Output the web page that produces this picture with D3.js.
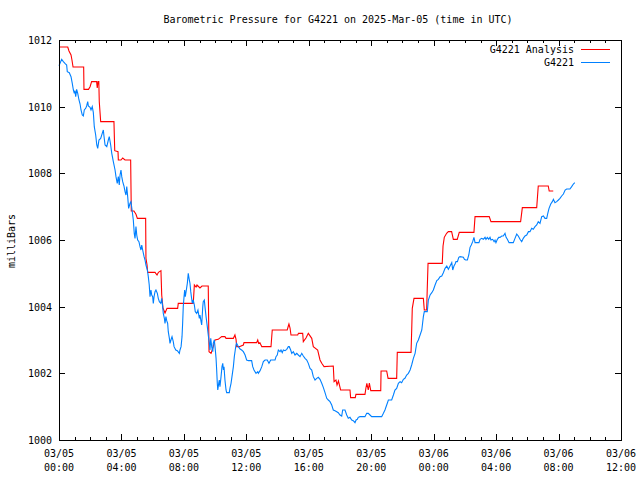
<!DOCTYPE html>
<html><head><meta charset="utf-8">
<script src="https://cdn.jsdelivr.net/npm/d3@7"></script>
<style>
html,body{margin:0;padding:0;background:#fff;}
svg text{font-family:"DejaVu Sans Mono","Liberation Mono",monospace;font-size:10px;fill:#000;}
</style></head>
<body><svg id="c" width="640" height="480"></svg>
<script>
const title = "Barometric Pressure for G4221 on 2025-Mar-05 (time in UTC)";
const yLabel = "milliBars";
const seriesNames = ["G4221 Analysis", "G4221"];
const seriesColors = ["#ff0000", "#0080ff"];
const startTime = "2025-03-05T00:00:00Z";
const endTime = "2025-03-06T12:00:00Z";
const yTicks = [1000, 1002, 1004, 1006, 1008, 1010, 1012];

// hours since 03/05 00:00 UTC
const redHours = [0.00,0.56,0.64,0.77,0.83,0.90,1.58,1.60,1.89,1.99,2.09,2.41,2.45,2.50,2.55,2.58,2.67,3.52,3.57,3.78,3.80,3.97,4.08,4.23,4.59,4.63,4.80,4.93,5.02,5.55,5.57,5.64,5.68,6.15,6.28,6.37,6.53,6.58,6.66,6.79,6.92,7.60,7.64,8.60,8.67,8.78,8.84,9.03,9.16,9.56,9.61,9.74,9.88,9.99,10.20,10.42,10.63,10.70,11.17,11.27,11.34,11.38,11.55,11.81,11.85,12.66,12.73,12.79,12.87,12.99,13.58,13.66,14.62,14.69,14.73,14.80,14.86,15.29,15.34,15.61,15.65,15.82,15.97,16.19,16.29,16.57,16.72,16.83,16.98,17.57,17.62,17.74,17.81,17.90,18.04,18.64,18.68,18.98,19.02,19.60,19.66,19.72,19.81,19.88,19.97,20.61,20.63,20.99,21.08,21.63,21.67,22.55,22.59,22.63,22.74,23.34,23.40,23.55,23.59,23.64,24.55,24.60,24.68,24.83,24.94,25.15,25.26,25.51,25.64,26.58,26.65,27.56,27.67,29.57,29.68,30.60,30.70,31.34,31.40,31.66];
const redValues = [1011.79,1011.79,1011.67,1011.55,1011.40,1011.19,1011.19,1010.52,1010.52,1010.60,1010.75,1010.75,1010.56,1010.75,1010.75,1010.15,1009.55,1009.55,1008.68,1008.65,1008.40,1008.40,1008.46,1008.40,1008.40,1006.87,1006.87,1006.77,1006.65,1006.65,1005.45,1005.25,1005.03,1005.03,1004.95,1005.03,1005.08,1004.35,1003.96,1003.81,1003.95,1003.95,1004.10,1004.10,1004.65,1004.59,1004.65,1004.56,1004.62,1004.62,1002.65,1002.60,1002.80,1003.00,1003.02,1003.10,1003.10,1003.05,1003.05,1003.15,1003.02,1002.80,1002.80,1002.85,1002.92,1002.92,1003.00,1002.90,1002.92,1002.80,1002.80,1003.30,1003.30,1003.42,1003.48,1003.36,1003.15,1003.15,1003.20,1003.20,1002.95,1003.06,1003.20,1003.05,1002.80,1002.70,1002.40,1002.30,1002.20,1002.22,1001.75,1001.80,1001.65,1001.77,1001.50,1001.50,1001.27,1001.27,1001.37,1001.37,1001.56,1001.70,1001.50,1001.71,1001.48,1001.48,1002.07,1002.07,1001.85,1001.85,1002.63,1002.63,1003.25,1003.95,1004.25,1004.25,1003.90,1003.90,1004.55,1005.30,1005.30,1005.82,1006.08,1006.20,1006.25,1006.25,1006.02,1006.02,1006.23,1006.23,1006.70,1006.70,1006.55,1006.55,1006.97,1006.97,1007.62,1007.62,1007.47,1007.47];

const blueHours = [0.00,0.17,0.28,0.38,0.49,0.53,0.66,0.77,0.85,0.92,0.98,1.02,1.07,1.13,1.20,1.28,1.35,1.41,1.49,1.56,1.62,1.71,1.77,1.84,1.88,1.99,2.05,2.13,2.20,2.26,2.35,2.42,2.48,2.56,2.67,2.77,2.84,2.88,2.95,3.06,3.16,3.22,3.31,3.38,3.48,3.59,3.65,3.73,3.80,3.86,3.91,3.97,4.02,4.08,4.16,4.23,4.29,4.34,4.40,4.46,4.55,4.61,4.68,4.76,4.82,4.87,4.93,4.98,5.04,5.12,5.19,5.25,5.30,5.36,5.45,5.51,5.57,5.66,5.72,5.78,5.83,5.89,5.94,6.00,6.04,6.09,6.15,6.21,6.30,6.36,6.43,6.52,6.58,6.64,6.68,6.75,6.79,6.85,6.90,6.96,7.00,7.07,7.11,7.17,7.24,7.32,7.37,7.48,7.58,7.71,7.75,7.82,7.88,7.92,7.96,8.01,8.05,8.09,8.14,8.22,8.28,8.33,8.39,8.44,8.48,8.54,8.60,8.67,8.73,8.82,8.90,8.99,9.03,9.10,9.14,9.21,9.24,9.31,9.35,9.42,9.50,9.56,9.63,9.67,9.72,9.78,9.85,9.88,9.95,10.01,10.06,10.10,10.14,10.17,10.23,10.27,10.31,10.38,10.44,10.49,10.53,10.57,10.63,10.70,10.74,10.91,10.95,11.02,11.08,11.17,11.23,11.29,11.34,11.38,11.49,11.60,11.70,11.81,11.92,12.02,12.13,12.34,12.41,12.49,12.62,12.73,12.77,12.88,12.99,13.09,13.20,13.34,13.45,13.56,13.84,13.90,13.98,14.05,14.16,14.22,14.30,14.37,14.48,14.59,14.69,14.75,14.84,14.91,15.01,15.12,15.23,15.33,15.44,15.55,15.65,15.76,15.87,15.97,16.08,16.19,16.29,16.40,16.51,16.61,16.72,16.83,16.93,17.04,17.15,17.25,17.36,17.47,17.57,17.68,17.79,17.89,18.00,18.11,18.17,18.32,18.43,18.53,18.64,18.75,18.85,18.96,19.03,19.11,19.17,19.28,19.60,19.71,19.81,19.92,20.03,20.67,20.78,20.88,20.99,21.10,21.31,21.42,21.52,21.63,21.74,21.85,21.95,22.06,22.16,22.27,22.38,22.49,22.59,22.70,22.81,22.91,23.02,23.13,23.24,23.34,23.40,23.59,23.66,23.77,23.88,23.98,24.09,24.20,24.30,24.41,24.52,24.62,24.73,24.84,24.94,25.05,25.16,25.22,25.30,25.37,25.43,25.52,25.61,25.69,25.90,25.97,26.05,26.16,26.25,26.33,26.41,26.50,26.58,26.65,26.90,26.97,27.08,27.18,27.29,27.35,27.44,27.53,27.61,27.67,27.78,27.87,27.93,27.99,28.08,28.17,28.25,28.36,28.46,28.57,28.64,28.72,28.83,29.10,29.21,29.32,29.42,29.53,29.64,29.74,29.85,29.96,30.07,30.17,30.28,30.38,30.49,30.60,30.70,30.81,30.92,31.03,31.13,31.24,31.31,31.39,31.50,31.60,31.67,31.77,31.88,31.99,32.09,32.20,32.31,32.42,32.52,32.73,32.84,32.95,33.04];
const blueValues = [1011.23,1011.42,1011.35,1011.30,1011.25,1011.05,1011.02,1010.90,1010.70,1010.50,1010.40,1010.48,1010.30,1010.52,1010.40,1010.20,1010.08,1009.90,1009.75,1009.72,1009.90,1009.95,1010.02,1010.15,1010.02,1009.98,1009.90,1010.00,1009.82,1009.40,1009.15,1008.85,1008.75,1009.00,1009.05,1009.20,1009.30,1009.12,1008.85,1008.80,1009.00,1009.10,1008.85,1008.60,1008.35,1008.10,1007.90,1007.70,1007.90,1007.65,1007.95,1008.10,1007.90,1007.75,1007.62,1007.45,1007.35,1007.60,1007.30,1006.95,1007.10,1007.15,1006.90,1006.60,1006.20,1006.05,1006.40,1006.15,1006.00,1005.95,1005.80,1005.70,1005.85,1005.70,1005.50,1005.40,1005.25,1005.10,1004.90,1004.65,1004.30,1004.50,1004.35,1004.30,1004.10,1004.30,1004.45,1004.50,1004.40,1004.25,1004.15,1004.10,1004.25,1004.00,1003.80,1003.65,1003.50,1003.70,1003.58,1003.50,1003.25,1003.05,1002.90,1003.00,1003.10,1002.95,1002.80,1002.70,1002.68,1002.60,1002.70,1002.80,1003.10,1003.50,1004.00,1004.30,1004.50,1004.30,1004.45,1004.70,1005.00,1004.85,1004.70,1004.45,1004.30,1004.10,1004.20,1004.05,1003.85,1003.80,1003.90,1003.65,1003.75,1003.55,1003.45,1004.00,1004.15,1004.20,1004.00,1003.70,1003.40,1003.15,1002.90,1002.70,1003.05,1002.80,1002.65,1002.90,1003.00,1002.72,1002.45,1002.10,1001.70,1001.50,1001.70,1001.80,1001.60,1001.90,1002.20,1002.30,1002.10,1002.20,1001.80,1001.50,1001.42,1001.42,1001.55,1001.70,1001.90,1002.20,1002.50,1002.70,1002.85,1002.90,1002.80,1002.73,1002.70,1002.65,1002.55,1002.40,1002.38,1002.38,1002.20,1002.10,1002.00,1002.05,1002.00,1002.08,1002.20,1002.35,1002.40,1002.40,1002.30,1002.40,1002.40,1002.50,1002.55,1002.70,1002.65,1002.70,1002.62,1002.70,1002.68,1002.72,1002.80,1002.80,1002.70,1002.60,1002.65,1002.55,1002.60,1002.55,1002.50,1002.60,1002.52,1002.45,1002.40,1002.30,1002.15,1002.10,1001.90,1001.80,1001.85,1001.88,1001.82,1001.70,1001.58,1001.42,1001.25,1001.20,1001.15,1001.05,1000.90,1000.88,1000.85,1000.82,1000.75,1000.72,1000.90,1000.90,1000.75,1000.65,1000.68,1000.60,1000.58,1000.52,1000.60,1000.62,1000.68,1000.70,1000.70,1000.80,1000.80,1000.75,1000.70,1000.70,1000.80,1000.90,1001.05,1001.20,1001.20,1001.35,1001.50,1001.55,1001.70,1001.75,1001.72,1001.82,1001.85,1001.95,1002.00,1002.10,1002.25,1002.45,1002.60,1002.90,1003.00,1003.15,1003.30,1003.70,1003.85,1003.85,1004.20,1004.35,1004.42,1004.50,1004.65,1004.78,1004.82,1004.90,1004.92,1005.02,1005.15,1005.22,1005.12,1005.22,1005.32,1005.10,1005.22,1005.28,1005.35,1005.35,1005.48,1005.50,1005.48,1005.42,1005.40,1005.40,1005.55,1005.78,1005.85,1005.95,1006.08,1005.92,1005.92,1006.02,1006.05,1006.02,1006.08,1006.02,1006.08,1006.02,1006.08,1006.00,1006.02,1005.95,1006.00,1005.92,1006.02,1006.08,1006.08,1006.12,1006.12,1006.20,1006.08,1006.02,1005.92,1005.92,1006.05,1006.18,1006.12,1006.02,1005.95,1006.05,1006.12,1006.15,1006.25,1006.25,1006.35,1006.32,1006.40,1006.45,1006.55,1006.50,1006.70,1006.72,1006.65,1006.65,1006.80,1006.95,1007.08,1007.15,1007.22,1007.12,1007.15,1007.20,1007.25,1007.32,1007.38,1007.50,1007.53,1007.53,1007.60,1007.68,1007.72];

const svg = d3.select("#c");
const L = 59, R = 621, T = 40, B = 440;
const t0 = new Date(startTime);
const toDate = h => new Date(t0.getTime() + h * 3600000);
const x = d3.scaleUtc().domain([t0, new Date(endTime)]).range([L, R]);
const y = d3.scaleLinear().domain([1000, 1012]).range([B, T]);

// ticks
const majorTicks = d3.utcHour.every(4).range(t0, new Date(new Date(endTime).getTime() + 1));
const minorTicks = d3.utcHour.every(1).range(t0, new Date(endTime)).filter(d => d.getUTCHours() % 4 !== 0);

const g = svg.append("g").attr("shape-rendering", "crispEdges");
function axisLines(sel, axis) { sel.call(axis); sel.select(".domain").remove(); sel.selectAll(".tick line").attr("stroke", "#000"); }

// minor x ticks bottom/top
g.append("g").attr("transform", `translate(0,${B})`).call(s => axisLines(s, d3.axisBottom(x).tickValues(minorTicks).tickSize(-3).tickFormat("")));
g.append("g").attr("transform", `translate(0,${T})`).call(s => axisLines(s, d3.axisTop(x).tickValues(minorTicks).tickSize(-3).tickFormat("")));
// major x ticks
const xb = g.append("g").attr("transform", `translate(0,${B})`);
axisLines(xb, d3.axisBottom(x).tickValues(majorTicks).tickSize(-6).tickPadding(0).tickFormat(""));
g.append("g").attr("transform", `translate(0,${T})`).call(s => axisLines(s, d3.axisTop(x).tickValues(majorTicks).tickSize(-6).tickFormat("")));
// y ticks
const yl = g.append("g").attr("transform", `translate(${L},0)`);
axisLines(yl, d3.axisLeft(y).tickValues(yTicks).tickSize(-6).tickFormat(""));
g.append("g").attr("transform", `translate(${R},0)`).call(s => axisLines(s, d3.axisRight(y).tickValues(yTicks).tickSize(-6).tickFormat("")));

// x labels
const fmtD = d3.utcFormat("%m/%d"), fmtT = d3.utcFormat("%H:%M");
const xl = svg.append("g");
majorTicks.forEach(d => {
  const t = xl.append("text").attr("x", x(d)).attr("y", 457).attr("text-anchor", "middle");
  t.append("tspan").attr("x", x(d)).text(fmtD(d));
  t.append("tspan").attr("x", x(d)).attr("dy", 14).text(fmtT(d));
});
// y labels
yTicks.forEach(v => {
  svg.append("text").attr("x", 52).attr("y", y(v) + 4).attr("text-anchor", "end").text(v);
});

// lines
const line = d3.line().x(d => x(toDate(d[0]))).y(d => y(d[1]));
const redData = redHours.map((h, i) => [h, redValues[i]]);
const blueData = blueHours.map((h, i) => [h, blueValues[i]]);
svg.append("path").datum(redData).attr("d", line).attr("fill", "none").attr("stroke", seriesColors[0]).attr("stroke-width", 1.1);
svg.append("path").datum(blueData).attr("d", line).attr("fill", "none").attr("stroke", seriesColors[1]).attr("stroke-width", 1.1);

// frame
svg.append("rect").attr("x", L + 0.5).attr("y", T + 0.5).attr("width", R - L).attr("height", B - T)
  .attr("fill", "none").attr("stroke", "#000").attr("shape-rendering", "crispEdges");

// title
svg.append("text").attr("x", 338).attr("y", 23).attr("text-anchor", "middle").text(title);
// y label
svg.append("text").attr("transform", "translate(15,241) rotate(-90)").attr("text-anchor", "middle").text(yLabel);

// legend
seriesNames.forEach((n, i) => {
  const yy = 49 + i * 13;
  svg.append("text").attr("x", 574).attr("y", yy + 4).attr("text-anchor", "end").text(n);
  svg.append("line").attr("x1", 581).attr("x2", 610).attr("y1", yy + 0.5).attr("y2", yy + 0.5)
    .attr("stroke", seriesColors[i]).attr("stroke-width", 1).attr("shape-rendering", "crispEdges");
});
</script></body></html>
